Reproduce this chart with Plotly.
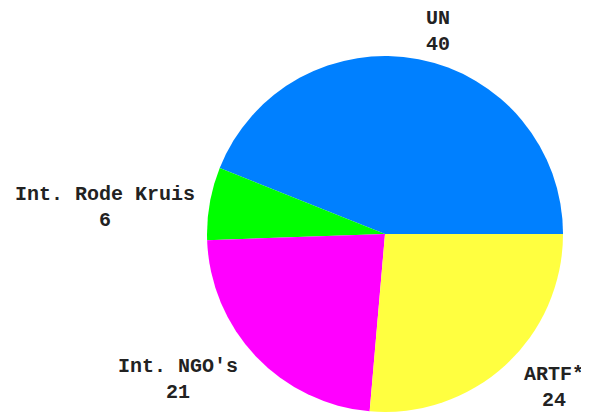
import plotly.graph_objects as go

labels = ["UN", "Int. Rode Kruis", "Int. NGO's", "ARTF*"]
values = [40, 6, 21, 24]
colors = ["#0080FF", "#00FF00", "#FF00FF", "#FFFF40"]

# label anchor positions (paper coords, text-block centres) for each slice label
label_pos = [(0.7301, 0.9420), (0.1647, 0.5146), (0.2886, 0.0971), (0.9270, 0.0800)]

total = sum(values)
# plotly (counterclockwise): first slice ends at `rotation`; we want UN to start at 3 o'clock
rotation = 90 - values[0] / total * 360

fig = go.Figure(go.Pie(
    labels=labels, values=values, sort=False, direction="counterclockwise",
    rotation=rotation, marker=dict(colors=colors, line=dict(width=0)),
    textinfo="none", hoverinfo="label+value",
    domain=dict(x=[0.3379, 0.9423], y=[0.0194, 0.8835]),
    showlegend=False,
))

for lab, val, (x, y) in zip(labels, values, label_pos):
    fig.add_annotation(x=x, y=y, xref="paper", yref="paper", showarrow=False,
                       xanchor="center", yanchor="middle", borderpad=0,
                       text=f"{lab}<br>{val}", align="center",
                       font=dict(family="Liberation Mono", size=20, color="#222222", weight="bold"))

fig.update_layout(width=589, height=412, margin=dict(l=0, r=0, t=0, b=0),
                  paper_bgcolor="white", plot_bgcolor="white")
fig.write_html("out.html")
